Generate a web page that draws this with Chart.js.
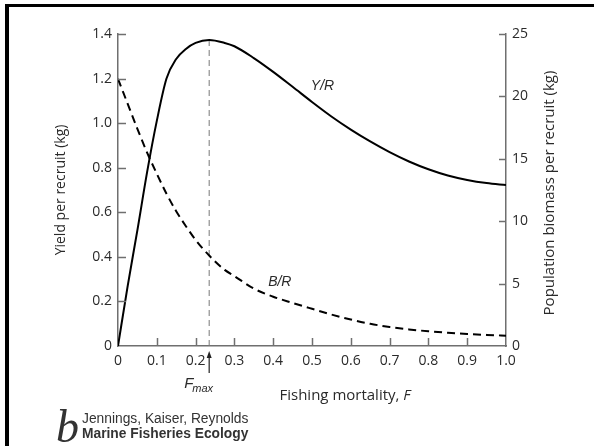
<!DOCTYPE html>
<html>
<head>
<meta charset="utf-8">
<script src="https://cdn.jsdelivr.net/npm/chart.js@4"></script>
<style>
  html, body { margin: 0; padding: 0; background: #fff; }
  #wrap { width: 594px; height: 446px; }
</style>
</head>
<body>
<div id="wrap"><canvas id="myChart" width="594" height="446"></canvas></div>
<script>
// fishing mortality F (x values)
var fishingF = [0, 0.025, 0.05, 0.075, 0.1, 0.125, 0.15, 0.175, 0.2, 0.235, 0.275, 0.3, 0.35, 0.4,
  0.45, 0.5, 0.55, 0.6, 0.65, 0.7, 0.75, 0.8, 0.85, 0.9, 0.95, 1.0];
// yield per recruit (kg), left axis
var yieldPerRecruit = [0, 0.27, 0.52, 0.78, 1.01, 1.2, 1.288, 1.333, 1.36, 1.373, 1.36, 1.345, 1.292, 1.23,
  1.163, 1.095, 1.03, 0.971, 0.918, 0.87, 0.828, 0.793, 0.765, 0.745, 0.731, 0.722];
// population biomass per recruit (kg), right axis
var biomassPerRecruit = [21.4, 19.4, 17.4, 15.5, 13.8, 12.2, 10.8, 9.6, 8.5, 7.25, 6.1, 5.6, 4.6, 3.95,
  3.45, 2.98, 2.52, 2.12, 1.78, 1.52, 1.33, 1.18, 1.06, 0.96, 0.89, 0.83];

var fMax = 0.235;

var xTicks = [0, 0.1, 0.2, 0.3, 0.4, 0.5, 0.6, 0.7, 0.8, 0.9, 1.0];
var xTickLabels = ['0', '0.1', '0.2', '0.3', '0.4', '0.5', '0.6', '0.7', '0.8', '0.9', '1.0'];
var yTicks = [0, 0.2, 0.4, 0.6, 0.8, 1.0, 1.2, 1.4];
var yTickLabels = ['0', '0.2', '0.4', '0.6', '0.8', '1.0', '1.2', '1.4'];
var y2Ticks = [0, 5, 10, 15, 20, 25];
var y2TickLabels = ['0', '5', '10', '15', '20', '25'];

var axisColor = '#6f6f6f';
var textColor = '#2a2a2a';
var tickFont = { family: '"Open Sans", sans-serif', size: 14 };

function pts(ys) {
  return fishingF.map(function (f, i) { return { x: f, y: ys[i] }; });
}

function setTicks(list) {
  return function (scale) {
    scale.ticks = list.map(function (v) { return { value: v }; });
  };
}

// extra drawing: frame, inward ticks, Fmax marker, labels, credit
var extras = {
  id: 'extras',
  beforeDatasetsDraw: function (chart) {
    var ctx = chart.ctx, x = chart.scales.x, y = chart.scales.y;
    var px = x.getPixelForValue(fMax);
    ctx.save();
    ctx.strokeStyle = '#777';
    ctx.lineWidth = 1;
    ctx.setLineDash([6, 4]);
    ctx.beginPath();
    ctx.moveTo(px, y.getPixelForValue(0));
    ctx.lineTo(px, y.getPixelForValue(1.373));
    ctx.stroke();
    ctx.restore();
  },
  afterDraw: function (chart) {
    var ctx = chart.ctx, x = chart.scales.x, y = chart.scales.y, y2 = chart.scales.y2;
    var area = chart.chartArea;
    ctx.save();

    // inward tick marks
    ctx.strokeStyle = axisColor;
    ctx.lineWidth = 1.5;
    ctx.beginPath();
    x.ticks.forEach(function (t) {
      var p = Math.round(x.getPixelForValue(t.value)) + 0.5;
      if (t.value === 0 || t.value === 1) return;
      ctx.moveTo(p, area.bottom); ctx.lineTo(p, area.bottom - 8);
    });
    y.ticks.forEach(function (t) {
      var p = Math.round(y.getPixelForValue(t.value)) + 0.5;
      if (t.value === 0) return;
      ctx.moveTo(area.left, p); ctx.lineTo(area.left + 8, p);
    });
    y2.ticks.forEach(function (t) {
      var p = Math.round(y2.getPixelForValue(t.value)) + 0.5;
      if (t.value === 0) return;
      ctx.moveTo(area.right, p); ctx.lineTo(area.right - 7, p);
    });
    ctx.stroke();

    // Fmax arrow
    var px = x.getPixelForValue(fMax);
    ctx.strokeStyle = '#222';
    ctx.fillStyle = '#222';
    ctx.lineWidth = 1.2;
    ctx.beginPath();
    ctx.moveTo(px, area.bottom + 8);
    ctx.lineTo(px, area.bottom + 27);
    ctx.stroke();
    ctx.beginPath();
    ctx.moveTo(px, area.bottom + 5);
    ctx.lineTo(px - 2.5, area.bottom + 12);
    ctx.lineTo(px + 2.5, area.bottom + 12);
    ctx.closePath();
    ctx.fill();

    // F_max label
    ctx.fillStyle = textColor;
    ctx.textBaseline = 'alphabetic';
    ctx.textAlign = 'left';
    ctx.font = 'italic 15px "Liberation Sans", Arial, sans-serif';
    ctx.fillText('F', px - 25, area.bottom + 42);
    var fw = ctx.measureText('F').width;
    ctx.font = 'italic 11px "Liberation Sans", Arial, sans-serif';
    ctx.fillText('max', px - 25 + fw - 1, area.bottom + 46);

    // curve labels
    ctx.font = 'italic 14px "Liberation Sans", Arial, sans-serif';
    ctx.textAlign = 'center';
    ctx.fillText('Y/R', x.getPixelForValue(0.527), y.getPixelForValue(1.15));
    ctx.fillText('B/R', x.getPixelForValue(0.417), y.getPixelForValue(0.27));

    // x axis title with italic F
    ctx.textAlign = 'left';
    ctx.font = '15px "Open Sans", sans-serif';
    var t1 = 'Fishing mortality, ';
    var w1 = ctx.measureText(t1).width;
    ctx.font = 'italic 15px "Open Sans", sans-serif';
    var w2 = ctx.measureText('F').width;
    var sx = 345 - (w1 + w2) / 2;
    ctx.font = '15px "Open Sans", sans-serif';
    ctx.fillText(t1, sx, 400);
    ctx.font = 'italic 15px "Open Sans", sans-serif';
    ctx.fillText('F', sx + w1, 400);

    // right axis title, reading upwards
    ctx.save();
    ctx.translate(550, y.getPixelForValue(0.7) + 3);
    ctx.rotate(-Math.PI / 2);
    ctx.textAlign = 'center';
    ctx.textBaseline = 'middle';
    ctx.font = '15px "Open Sans", sans-serif';
    ctx.fillText('Population biomass per recruit (kg)', 0, 0);
    ctx.restore();

    // credit
    ctx.fillStyle = '#333';
    ctx.textAlign = 'left';
    ctx.font = 'italic 46px "Liberation Serif", serif';
    ctx.fillText('b', 56, 442);
    ctx.font = '13.8px "Liberation Sans", Arial, sans-serif';
    ctx.fillText('Jennings, Kaiser, Reynolds', 82, 423);
    ctx.font = 'bold 13.8px "Liberation Sans", Arial, sans-serif';
    ctx.fillText('Marine Fisheries Ecology', 82, 438);

    // frame (top and left edges)
    ctx.fillStyle = '#000';
    ctx.fillRect(5, 4, 594, 3);
    ctx.fillRect(5, 4, 4, 446);
    ctx.restore();
  }
};

var ctx = document.getElementById('myChart').getContext('2d');
var myChart = new Chart(ctx, {
  type: 'line',
  data: {
    datasets: [{
      label: 'Y/R',
      data: pts(yieldPerRecruit),
      yAxisID: 'y',
      borderColor: '#000',
      borderWidth: 2,
      pointRadius: 0,
      cubicInterpolationMode: 'monotone'
    }, {
      label: 'B/R',
      data: pts(biomassPerRecruit),
      yAxisID: 'y2',
      borderColor: '#000',
      borderWidth: 2,
      borderDash: [8, 5],
      pointRadius: 0,
      cubicInterpolationMode: 'monotone'
    }]
  },
  options: {
    responsive: false,
    animation: false,
    layout: { padding: { top: 34, left: 0, right: 0, bottom: 0 } },
    plugins: { legend: { display: false }, tooltip: { enabled: false } },
    scales: {
      x: {
        type: 'linear',
        min: 0, max: 1,
        afterBuildTicks: setTicks(xTicks),
        afterFit: function (s) { s.height = 100; },
        grid: { display: false, drawTicks: false },
        border: { display: true, color: axisColor, width: 1.5 },
        ticks: {
          padding: 7, color: textColor, font: tickFont, maxRotation: 0,
          callback: function (v, i) { return xTickLabels[i]; }
        }
      },
      y: {
        position: 'left',
        min: 0, max: 1.4,
        afterBuildTicks: setTicks(yTicks),
        afterFit: function (s) { s.width = 118; },
        grid: { display: false, drawTicks: false },
        border: { display: true, color: axisColor, width: 1.5 },
        ticks: {
          padding: 6, color: textColor, font: tickFont,
          callback: function (v, i) { return yTickLabels[i]; }
        },
        title: {
          display: true, text: 'Yield per recruit (kg)', color: textColor,
          font: { family: '"Open Sans", sans-serif', size: 14 },
          padding: { top: 53 }
        }
      },
      y2: {
        position: 'right',
        min: 0, max: 25,
        afterBuildTicks: setTicks(y2Ticks),
        afterFit: function (s) { s.width = 88; },
        grid: { display: false, drawTicks: false },
        border: { display: true, color: axisColor, width: 1.5 },
        ticks: {
          padding: 6, color: textColor, font: tickFont,
          callback: function (v, i) { return y2TickLabels[i]; }
        }
      }
    }
  },
  plugins: [extras]
});
</script>
</body>
</html>
